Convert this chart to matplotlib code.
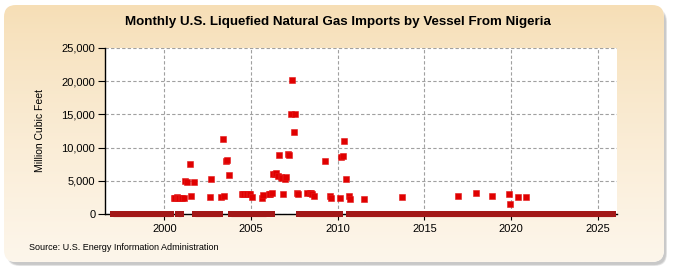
import numpy as np
import matplotlib
matplotlib.use("Agg")
import matplotlib.pyplot as plt
from matplotlib.patches import FancyBboxPatch
from matplotlib.ticker import FuncFormatter

plt.rcParams['font.family'] = ['Liberation Sans', 'DejaVu Sans']

title = "Monthly U.S. Liquefied Natural Gas Imports by Vessel From Nigeria"
ylabel = "Million Cubic Feet"
source = "Source: U.S. Energy Information Administration"

# months with imports (year, month) and their values
import_months = [
    (2000, 7), (2000, 8), (2000, 9), (2000, 10), (2000, 11), (2000, 12),
    (2001, 1), (2001, 2), (2001, 3), (2001, 4), (2001, 6), (2001, 7), (2001, 9),
    (2002, 8), (2002, 9),
    (2003, 4), (2003, 5), (2003, 6), (2003, 7), (2003, 8), (2003, 9),
    (2004, 6), (2004, 7), (2004, 8), (2004, 9), (2004, 10), (2004, 11), (2004, 12),
    (2005, 1), (2005, 8), (2005, 9),
    (2006, 1), (2006, 2), (2006, 3), (2006, 4), (2006, 5), (2006, 6), (2006, 7),
    (2006, 8), (2006, 9), (2006, 10), (2006, 11), (2006, 12),
    (2007, 1), (2007, 2), (2007, 3), (2007, 4), (2007, 5), (2007, 6), (2007, 7),
    (2007, 8), (2007, 9),
    (2008, 3), (2008, 5), (2008, 6), (2008, 7), (2008, 8),
    (2009, 4), (2009, 7), (2009, 8),
    (2010, 2), (2010, 3), (2010, 4), (2010, 5), (2010, 6), (2010, 8), (2010, 9),
    (2011, 7), (2013, 9), (2016, 12), (2017, 12), (2018, 11),
    (2019, 11), (2019, 12), (2020, 5), (2020, 11),
]
import_values = [
    2450, 2450, 2500, 2450, 2400, 2450,
    2450, 2450, 5000, 4750, 7500, 2700, 4800,
    2600, 5300,
    2500, 11250, 2700, 8000, 8100, 5800,
    2950, 2950, 2950, 2950, 2950, 2950, 2950,
    2600, 2450, 2850,
    3000, 3050, 3100, 6000, 6000, 6100, 5700,
    8900, 5500, 5400, 3000, 5200,
    5600, 9000, 8900, 15000, 20200, 12400, 15000,
    3100, 3000,
    3100, 3100, 3100, 3050, 2750,
    8000, 2750, 2450,
    2450, 8600, 8800, 11000, 5300, 2750, 2250,
    2250, 2600, 2750, 3200, 2750,
    3050, 1550, 2600, 2600,
]

# runs of months at zero (first month, last month)
zero_spans = [
    ((1997, 1), (2000, 5)),
    ((2000, 10), (2000, 12)),
    ((2001, 10), (2003, 3)),
    ((2003, 11), (2005, 11)),
    ((2006, 3), (2006, 3)),
    ((2007, 10), (2010, 2)),
    ((2010, 8), (2025, 11)),
]


def dec_year(y, m):
    return y + (m - 0.5) / 12


x_imp = [dec_year(y, m) for y, m in import_months]

W, H = 675, 275
fig = plt.figure(figsize=(W / 100, H / 100), dpi=100)
fig.patch.set_facecolor('white')

# rounded panel with soft shadow and gradient fill
bg = fig.add_axes([0, 0, 1, 1], zorder=-5)
bg.set_xlim(0, W)
bg.set_ylim(H, 0)
bg.axis('off')
for i in range(5):
    d = i * 1.0
    sh = FancyBboxPatch((4 + 3 + d * 0.3, 5 + 4 + d * 0.3), 660 - d * 0.6, 257 - d * 0.6,
                        boxstyle="round,pad=0,rounding_size=12",
                        fc='#808080', ec='none', alpha=0.10, zorder=-2)
    bg.add_patch(sh)
panel = FancyBboxPatch((4, 5), 660, 257, boxstyle="round,pad=0,rounding_size=12",
                       fc='white', ec='none', zorder=-1)
bg.add_patch(panel)
grad = np.linspace(0, 1, 256)[:, None]
top = np.array([246, 222, 181]) / 255
bot = np.array([253, 246, 235]) / 255
img = top + (bot - top) * grad[..., None] ** 0.8
im = bg.imshow(np.repeat(img, 2, axis=1), extent=[4, 664, 262, 5], aspect='auto', zorder=0)
im.set_clip_path(panel)

ax = fig.add_axes([105 / W, 1 - 214 / H, 512 / W, 166 / H])
ax.set_facecolor('white')

# zero months drawn as a continuous band
for (y0, m0), (y1, m1) in zero_spans:
    k0 = y0 * 12 + m0 - 1
    k1 = y1 * 12 + m1 - 1
    xs = [dec_year(k // 12, k % 12 + 1) for k in range(k0, k1 + 1)]
    ax.plot(xs, np.zeros(len(xs)), color='#a31818', lw=3.7, marker='s', ms=3.7,
            mew=0, solid_capstyle='butt', clip_on=False, zorder=4)

ax.plot(x_imp, import_values, ls='none', marker='s', ms=3.7, mfc='#e00000', mec='#e41a1a',
        mew=0.4, clip_on=False, zorder=5)

ax.set_xlim(1996.58, 2026.11)
ax.set_ylim(0, 25000)
ax.set_xticks([2000, 2005, 2010, 2015, 2020, 2025])
ax.set_yticks(np.arange(0, 25001, 5000))
ax.yaxis.set_major_formatter(FuncFormatter(lambda v, p: f"{int(v):,}"))
ax.grid(True, color='#a0a0a0', ls=(0, (3, 2)), lw=0.8)
ax.set_axisbelow(True)
for s in ['top', 'right']:
    ax.spines[s].set_visible(False)
ax.spines['left'].set_linewidth(1.0)
ax.spines['bottom'].set_linewidth(1.0)
ax.tick_params(axis='y', length=5, width=0.8, pad=2, labelsize=8)
ax.tick_params(axis='x', length=4, width=0.8, pad=3, labelsize=8)

ax.set_ylabel(ylabel, fontsize=7.5)
ax.yaxis.set_label_coords(-0.118, 0.5)

fig.text(0.5, 1 - 22 / H, title, ha='center', va='center', fontsize=9.6, fontweight='bold')
fig.text(29 / W, 1 - 248 / H, source, ha='left', va='center', fontsize=6.5)

fig.savefig('out.png', dpi=100)
